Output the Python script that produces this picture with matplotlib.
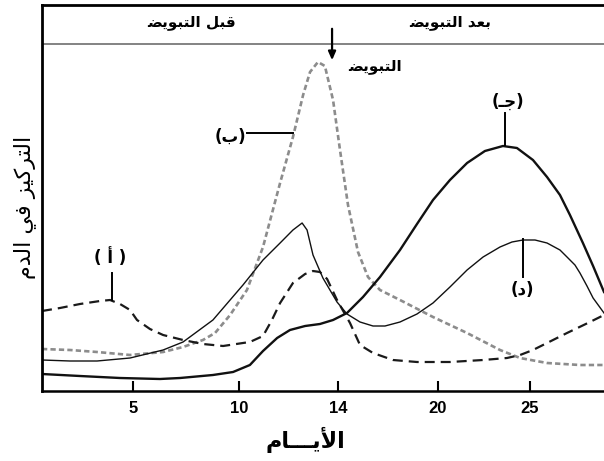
import numpy as np
import matplotlib
matplotlib.use("Agg")
import matplotlib.pyplot as plt

# ---------------- data (days, concentration in arbitrary units) ----------------
a_days = [1.0, 1.79, 2.67, 3.55, 3.99, 4.43, 4.87, 5.19, 5.80, 6.42, 7.36, 8.30, 9.25, 10.16,
          10.44, 10.97, 11.33, 11.66, 12.18, 12.67, 12.99, 13.27, 13.56, 13.96, 14.72, 15.32,
          16.10, 17.30, 18.74, 20.65, 22.45, 23.75, 24.46, 25.16, 25.92, 27.0, 28.24, 29.0]
a_vals = [80, 83, 87, 90, 91, 87, 81, 71, 62, 56, 51, 47, 45, 48,
          49, 55, 71, 88, 108, 117, 120, 119, 112, 91, 68, 46,
          38, 31, 29, 29, 31, 33, 36, 41, 48, 58, 69, 76]

b_days = [1.0, 2.23, 3.42, 4.87, 6.42, 7.36, 8.30, 8.87, 9.58, 10.32, 10.97, 11.66, 12.18,
          12.59, 12.87, 13.19, 13.47, 13.80, 14.12, 14.60, 15.20, 15.80, 16.52, 17.72, 19.70,
          21.58, 23.37, 24.46, 25.92, 27.70, 29.0]
b_vals = [42, 41, 39, 36, 39, 44, 51, 58, 76, 101, 144, 208, 254,
          296, 319, 329, 325, 291, 241, 186, 139, 114, 101, 91, 74,
          58, 41, 33, 28, 26, 26]

c_days = [1.0, 2.67, 4.43, 6.27, 7.22, 8.77, 9.72, 10.44, 10.97, 11.54, 12.06, 12.67, 13.27,
          13.80, 14.54, 15.50, 16.52, 17.72, 18.74, 19.70, 20.65, 21.58, 22.55, 23.53, 24.29,
          25.16, 25.92, 26.62, 27.16, 27.86, 28.41, 29.0]
c_vals = [17, 15, 13, 12, 13, 16, 19, 26, 40, 53, 61, 65, 67,
          71, 78, 94, 114, 141, 167, 191, 211, 228, 240, 245, 243,
          231, 214, 196, 176, 148, 125, 99]

d_days = [1.0, 2.23, 3.42, 4.87, 6.42, 7.36, 8.77, 10.16, 10.97, 11.66, 12.18, 12.55, 12.75,
          12.99, 13.39, 13.96, 14.54, 15.32, 16.10, 16.82, 17.72, 18.74, 19.70, 20.65, 21.58,
          22.45, 23.37, 24.02, 24.62, 25.27, 25.92, 26.62, 27.0, 27.43, 27.70, 28.08, 28.41, 29.0]
d_vals = [31, 30, 30, 33, 41, 49, 71, 106, 131, 148, 161, 168, 161,
          136, 113, 89, 77, 69, 65, 65, 69, 77, 88, 104, 121,
          134, 144, 149, 151, 151, 148, 141, 134, 126, 118, 105, 93, 78]

tick_days = [5, 10, 14, 20, 25]
tick_labels = ['5', '10', '14', '20', '25']

# non-uniform day axis of the original drawing (breakpoints day -> relative position)
axis_days = [1, 5, 10, 14, 20, 25, 29]
axis_pos = [0, 91, 197, 296, 396, 488, 562]

# ---------------- minimal Arabic shaping (presentation forms, visual order) ----------------
FORMS = {
    'ا': (0xFE8D, 0xFE8E, None, None), 'أ': (0xFE83, 0xFE84, None, None),
    'ب': (0xFE8F, 0xFE90, 0xFE91, 0xFE92), 'ت': (0xFE95, 0xFE96, 0xFE97, 0xFE98),
    'ج': (0xFE9D, 0xFE9E, 0xFE9F, 0xFEA0), 'د': (0xFEA9, 0xFEAA, None, None),
    'ر': (0xFEAD, 0xFEAE, None, None), 'ز': (0xFEAF, 0xFEB0, None, None),
    'ض': (0xFEBF, 0xFEC0, 0xFEC1, 0xFEC2), 'ع': (0xFEC9, 0xFECA, 0xFECB, 0xFECC),
    'ف': (0xFED1, 0xFED2, 0xFED3, 0xFED4), 'ق': (0xFED5, 0xFED6, 0xFED7, 0xFED8),
    'ك': (0xFED9, 0xFEDA, 0xFEDB, 0xFEDC), 'ل': (0xFEDD, 0xFEDE, 0xFEDF, 0xFEE0),
    'م': (0xFEE1, 0xFEE2, 0xFEE3, 0xFEE4), 'و': (0xFEED, 0xFEEE, None, None),
    'ي': (0xFEF1, 0xFEF2, 0xFEF3, 0xFEF4),
}
LIG = {'ا': (0xFEFB, 0xFEFC), 'أ': (0xFEF7, 0xFEF8)}
TATWEEL = 'ـ'


def shape(s):
    items = []
    i = 0
    while i < len(s):
        ch = s[i]
        if ch == 'ل' and i + 1 < len(s) and s[i + 1] in LIG:
            items.append(('LIG', s[i + 1]))
            i += 2
        else:
            items.append(ch)
            i += 1

    def is_letter(x):
        return isinstance(x, tuple) or x in FORMS or x == TATWEEL

    def dual(x):
        if isinstance(x, tuple):
            return False
        return x == TATWEEL or (x in FORMS and FORMS[x][2] is not None)

    out = []
    for k, x in enumerate(items):
        prev = items[k - 1] if k > 0 else None
        nxt = items[k + 1] if k + 1 < len(items) else None
        jp = prev is not None and dual(prev) and is_letter(x)
        jn = dual(x) and nxt is not None and is_letter(nxt)
        if isinstance(x, tuple):
            iso, fin = LIG[x[1]]
            out.append(chr(fin if jp else iso))
        elif x == TATWEEL:
            out.append(x)
        elif x in FORMS:
            f = FORMS[x]
            if jp and jn:
                out.append(chr(f[3]))
            elif jp:
                out.append(chr(f[1]))
            elif jn:
                out.append(chr(f[2]))
            else:
                out.append(chr(f[0]))
        else:
            out.append(x)
    return ''.join(reversed(out))


def paren(s, sp=''):
    return '(' + sp + shape(s) + sp + ')'


# ---------------- scale ----------------
def fwd(d):
    d = np.asarray(d, float)
    out = np.interp(d, axis_days, axis_pos)
    out = np.where(d < axis_days[0], axis_pos[0] + (d - axis_days[0]) * 22.75, out)
    out = np.where(d > axis_days[-1], axis_pos[-1] + (d - axis_days[-1]) * 18.5, out)
    return out


def inv(p):
    p = np.asarray(p, float)
    out = np.interp(p, axis_pos, axis_days)
    out = np.where(p < axis_pos[0], axis_days[0] + (p - axis_pos[0]) / 22.75, out)
    out = np.where(p > axis_pos[-1], axis_days[-1] + (p - axis_pos[-1]) / 18.5, out)
    return out


AR = ['DejaVu Sans']
NUM = ['Liberation Sans', 'DejaVu Sans']

fig = plt.figure(figsize=(6.04, 4.61), dpi=100)
ax = fig.add_axes([42 / 604, 70 / 461, 562 / 604, 386 / 461])
ax.set_xscale('function', functions=(fwd, inv))
ax.set_xlim(1, 29)
ax.set_ylim(0, 386)

ax.plot(b_days, b_vals, color='#8c8c8c', lw=1.9, dashes=(2.0, 1.2), solid_capstyle='butt')
ax.plot(a_days, a_vals, color='#1a1a1a', lw=1.6, dashes=(4.5, 2.7))
ax.plot(c_days, c_vals, color='#111111', lw=1.7)
ax.plot(d_days, d_vals, color='#111111', lw=1.0)

# header band
ax.axhline(347, color='#7a7a7a', lw=1.3)
ax.text(7.74, 369, shape('قبل التبويض'), family=AR, fontsize=11, fontweight='bold',
        ha='center', va='center')
ax.text(20.65, 369, shape('بعد التبويض'), family=AR, fontsize=11, fontweight='bold',
        ha='center', va='center')

# ovulation arrow
ax.annotate('', xy=(13.76, 328), xytext=(13.76, 365),
            arrowprops=dict(arrowstyle='-|>,head_length=0.5,head_width=0.22', color='black', lw=1.6))
ax.text(16.22, 325, shape('التبويض'), family=AR, fontsize=11, fontweight='bold',
        ha='center', va='center')

# curve labels
lab = dict(family=AR, fontsize=12, fontweight='bold', ha='center', va='center')
ax.text(9.58, 254, paren('ب'), **lab)
ax.plot([10.32, 12.18], [258, 258], color='black', lw=1.4)
ax.text(23.80, 289, paren('جـ'), **lab)
ax.plot([23.64, 23.64], [278, 246], color='black', lw=1.4)
ax.text(3.99, 133, paren('أ', ' '), **lab)
ax.plot([4.08, 4.08], [118, 91], color='black', lw=1.4)
ax.text(24.57, 101, paren('د'), **lab)
ax.plot([24.62, 24.62], [152, 114], color='black', lw=1.4)

# axes styling
ax.spines['right'].set_visible(False)
ax.spines['top'].set_linewidth(2.0)
ax.spines['left'].set_linewidth(2.0)
ax.spines['bottom'].set_linewidth(1.8)
ax.set_yticks([])
ax.set_xticks(tick_days)
ax.set_xticklabels(tick_labels, family=NUM, fontsize=12, fontweight='bold')
ax.xaxis.set_minor_locator(matplotlib.ticker.NullLocator())
ax.tick_params(axis='x', direction='in', length=7, width=1.5, pad=7)

fig.text(305 / 604, 1 - 440 / 461, shape('الأيـــام'), family=AR, fontsize=16,
         fontweight='bold', ha='center', va='center')
fig.text(25 / 604, 1 - 207 / 461, shape('التركيز في الدم'), family=AR, fontsize=16,
         rotation=90, ha='center', va='center')

fig.savefig('out.png', dpi=100)
